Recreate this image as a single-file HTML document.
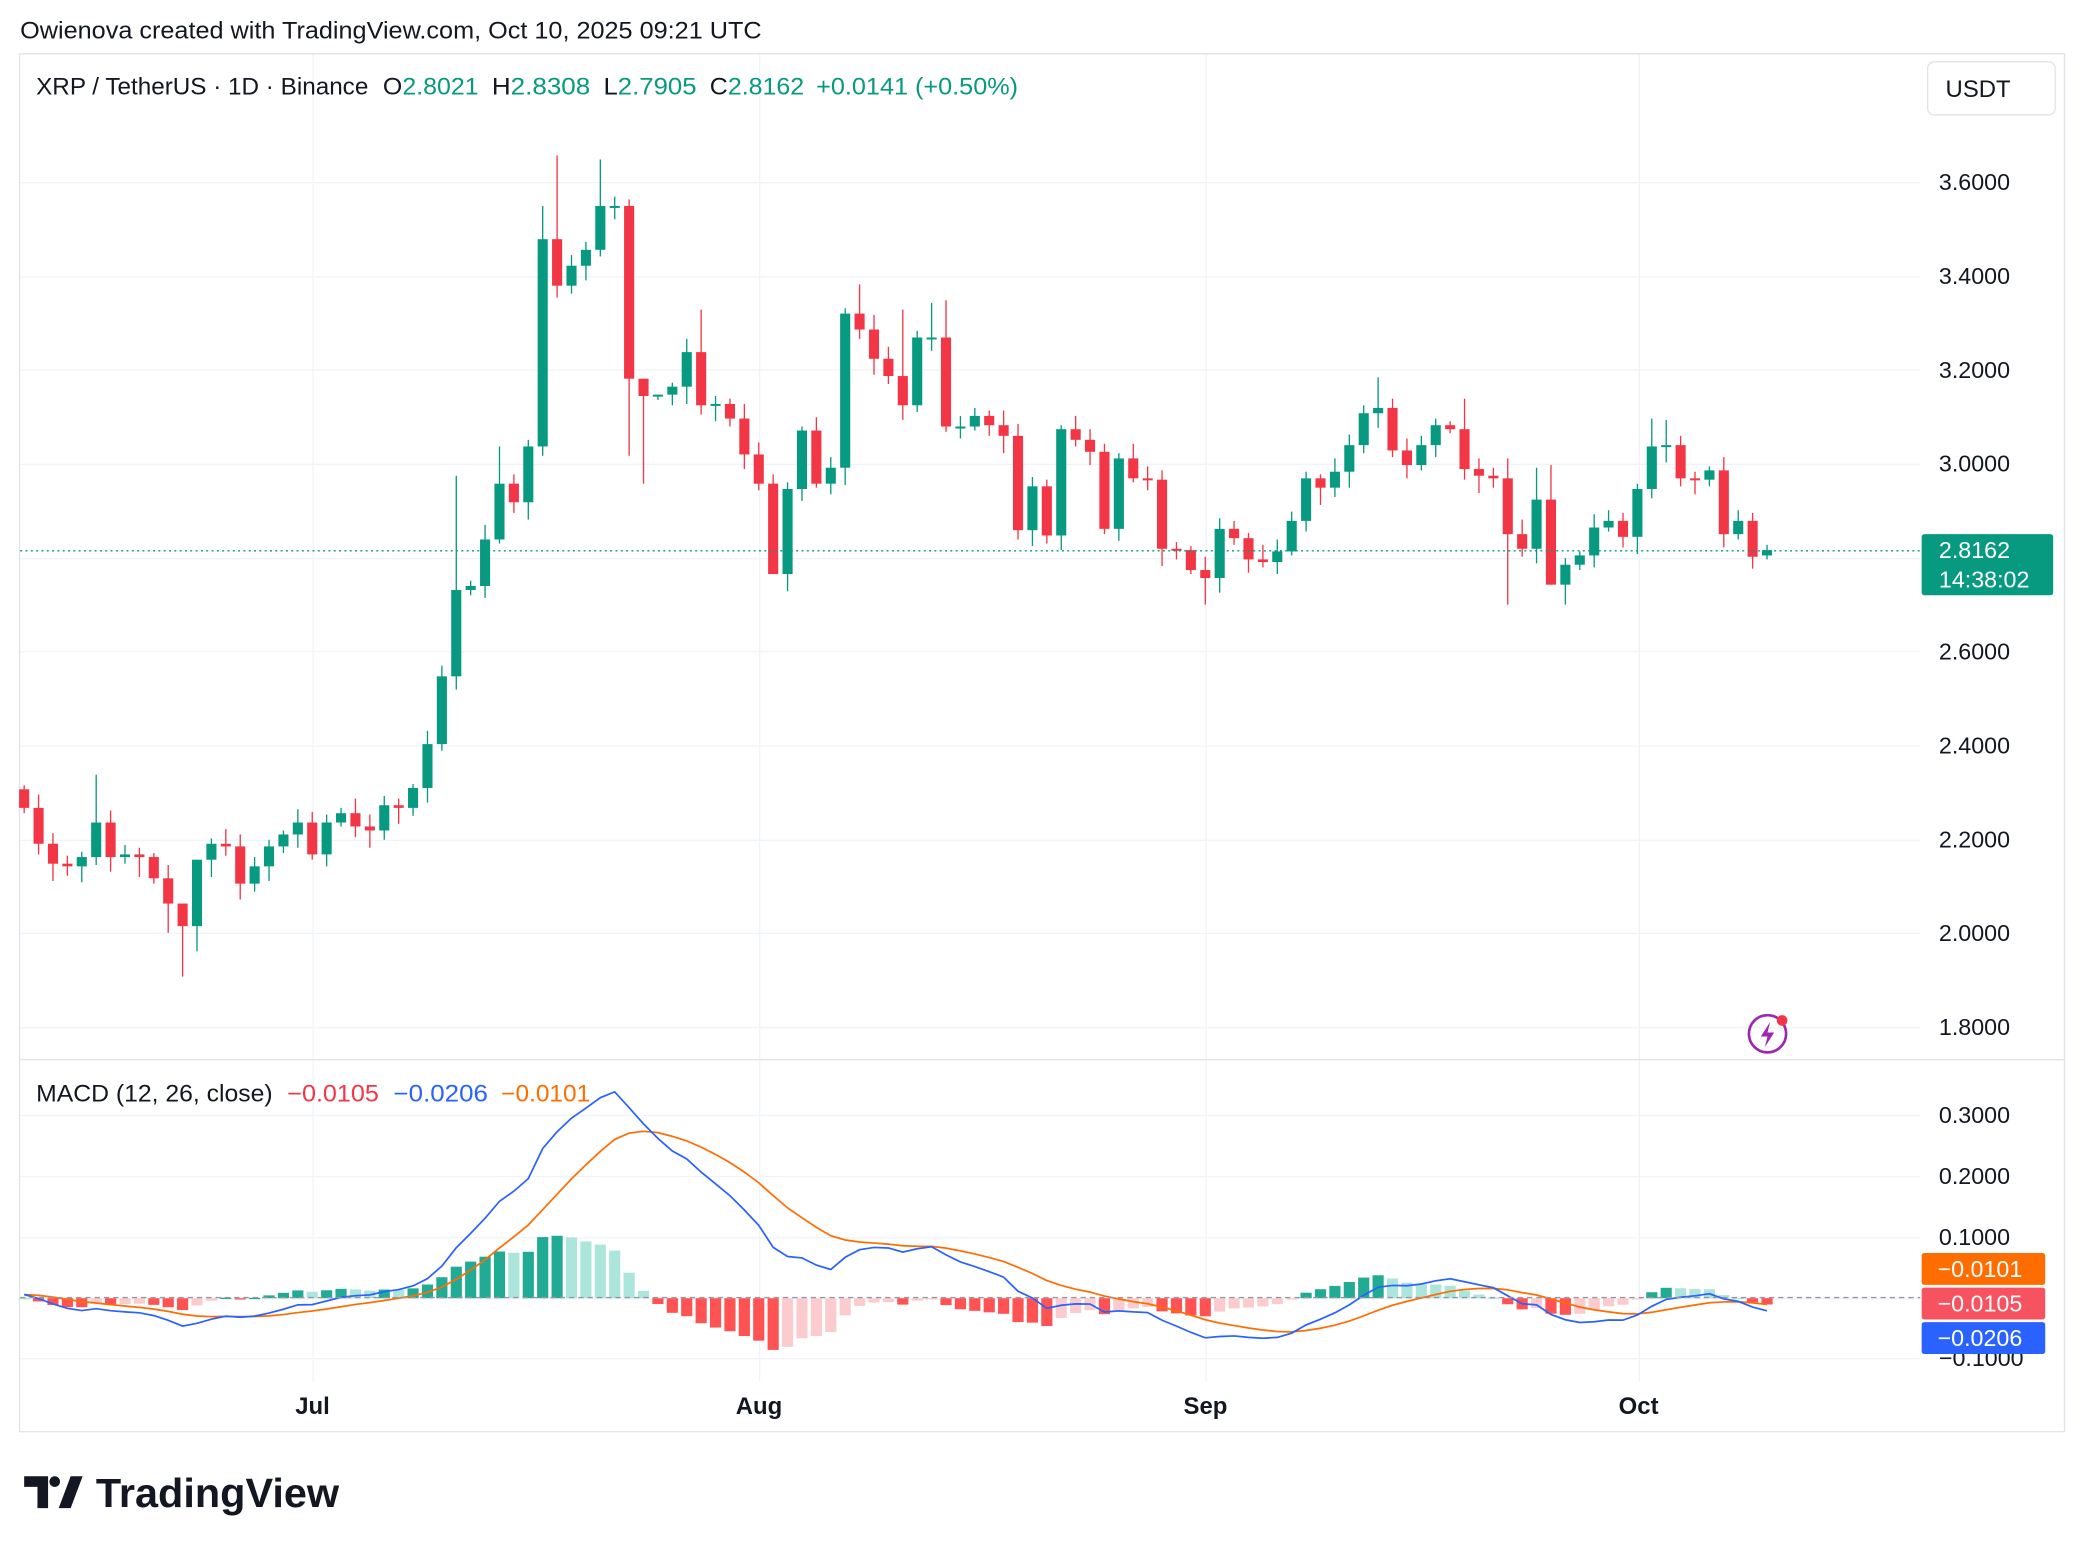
<!DOCTYPE html>
<html><head><meta charset="utf-8"><style>
html,body{margin:0;padding:0;background:#fff;}
svg{display:block;font-family:"Liberation Sans",sans-serif;}
</style></head><body>
<svg id="s" width="2084" height="1552" viewBox="0 0 1568 1168" xmlns="http://www.w3.org/2000/svg">
<rect width="1568" height="1168" fill="#fff"/>
<text x="15" y="29" font-size="18" fill="#131722" textLength="558" lengthAdjust="spacingAndGlyphs">Owienova created with TradingView.com, Oct 10, 2025 09:21 UTC</text>
<rect x="14.5" y="40.5" width="1539" height="1037" fill="none" stroke="#e0e3eb"/>
<g id="grid" stroke="#f0f3fa" stroke-width="1"></g>
<line x1="15" y1="797.5" x2="1553" y2="797.5" stroke="#e0e3eb"/>
<g id="candles"></g>
<g id="macd"></g>
<line x1="15" y1="414.5" x2="1445" y2="414.5" stroke="#089981" stroke-dasharray="1.5,2.5"/>
<g font-size="18" fill="#131722">
<text x="27" y="71" textLength="250" lengthAdjust="spacingAndGlyphs">XRP / TetherUS · 1D · Binance</text>
<text x="288" y="71" textLength="72" lengthAdjust="spacingAndGlyphs">O<tspan fill="#089981">2.8021</tspan></text>
<text x="370" y="71" textLength="74" lengthAdjust="spacingAndGlyphs">H<tspan fill="#089981">2.8308</tspan></text>
<text x="454" y="71" textLength="70" lengthAdjust="spacingAndGlyphs">L<tspan fill="#089981">2.7905</tspan></text>
<text x="534" y="71" textLength="71" lengthAdjust="spacingAndGlyphs">C<tspan fill="#089981">2.8162</tspan></text>
<text x="614" y="71" fill="#089981" textLength="152" lengthAdjust="spacingAndGlyphs">+0.0141 (+0.50%)</text>
<text x="27" y="829" textLength="178" lengthAdjust="spacingAndGlyphs">MACD (12, 26, close)</text>
<text x="216" y="829" fill="#f23645" textLength="69" lengthAdjust="spacingAndGlyphs">−0.0105</text>
<text x="296" y="829" fill="#2962ff" textLength="71" lengthAdjust="spacingAndGlyphs">−0.0206</text>
<text x="377" y="829" fill="#ff6d00" textLength="67" lengthAdjust="spacingAndGlyphs">−0.0101</text>
</g>
<rect x="1450.5" y="46.5" width="96" height="40" rx="5" fill="#fff" stroke="#e0e3eb"/>
<text x="1464" y="73" font-size="18" fill="#131722">USDT</text>
<g id="plabels" font-size="17.5" fill="#131722"></g>
<rect x="1446" y="402" width="99" height="46" rx="2" fill="#089981"/>
<text x="1459" y="420" font-size="17.5" fill="#fff">2.8162</text>
<text x="1459" y="442" font-size="17.5" fill="#fff">14:38:02</text>
<line x1="15" y1="976.5" x2="1445" y2="976.5" stroke="#9598a1" stroke-dasharray="4,3"/>
<rect x="1446" y="943" width="93" height="24" rx="2" fill="#ff6d00"/>
<text x="1458" y="961" font-size="17.5" fill="#fff">−0.0101</text>
<rect x="1446" y="969" width="93" height="24" rx="2" fill="#f7525f"/>
<text x="1458" y="987" font-size="17.5" fill="#fff">−0.0105</text>
<rect x="1446" y="995" width="93" height="24" rx="2" fill="#2962ff"/>
<text x="1458" y="1013" font-size="17.5" fill="#fff">−0.0206</text>
<g font-size="18" fill="#131722" font-weight="bold" text-anchor="middle">
<text x="235" y="1064">Jul</text><text x="571" y="1064">Aug</text><text x="907" y="1064">Sep</text><text x="1233" y="1064">Oct</text></g>
<circle cx="1330" cy="778" r="14" fill="none" stroke="#9c27b0" stroke-width="2"/>
<path d="M1332 769 l-7 11 h5 l-2 8 l7 -11 h-5z" fill="#9c27b0"/>
<circle cx="1341" cy="768" r="4" fill="#f23645"/>
<g fill="#131722"><path d="M18 1111 h18 v24 h-8 v-16 h-10z"/><circle cx="41" cy="1115" r="4"/><path d="M44 1135 l9 -24 h9 l-9 24z"/></g>
<text x="72" y="1134" font-size="31" font-weight="bold" fill="#131722" textLength="183" lengthAdjust="spacingAndGlyphs">TradingView</text>
</svg>
<script>
const ys=[[594,608],[608,635],[635,650],[650,652],[652,645],[645,619],[619,645],[645,643],[643,645],[645,661],[661,680],[680,697],[697,647],[647,635],[635,637],[637,665],[665,652],[652,637],[637,628],[628,619],[619,643],[643,619],[619,612],[612,622],[622,625],[625,606],[606,608],[608,593],[593,560],[560,509],[509,444],[444,441],[441,406],[406,364],[364,378],[378,336],[336,180],[180,215],[215,200],[200,188],[188,155],[155,155],[155,285],[285,298],[298,297],[297,291],[291,265],[265,305],[305,304],[304,315],[315,342],[342,364],[364,432],[432,368],[368,324],[324,364],[364,352],[352,236],[236,248],[248,270],[270,283],[283,305],[305,254],[254,254],[254,321],[321,321],[321,313],[313,320],[320,328],[328,399],[399,366],[366,403],[403,323],[323,331],[331,340],[340,398],[398,345],[345,360],[360,361],[361,413],[413,414],[414,429],[429,435],[435,398],[398,405],[405,421],[421,423],[423,415],[415,392],[392,360],[360,367],[367,355],[355,335],[335,311],[311,307],[307,339],[339,350],[350,335],[335,320],[320,323],[323,353],[353,358],[358,360],[360,402],[402,413],[413,376],[376,440],[440,425],[425,418],[418,397],[397,392],[392,404],[404,368],[368,336],[336,335],[335,360],[360,361],[361,354],[354,402],[402,392],[392,419],[418,414]];
const hi={36:155,37:117,40:120,41:148,42:150,57:232,58:214,61:233,63:228,64:226,11:735,12:715,33:336,30:358,47:233,95:300,94:284,100:300,113:315,114:316,5:583,43:364,44:350,103:345,106:350,105:352};
const lo={11:735,12:716,42:343,43:364,52:432,53:445,106:440,107:455,103:455,82:455,81:432,8:660,10:702,37:224,0:612};
const NS="http://www.w3.org/2000/svg";
function el(t,a,p){const e=document.createElementNS(NS,t);for(const k in a)e.setAttribute(k,a[k]);p.appendChild(e);return e;}
const s=document.getElementById('s'),G=document.getElementById('grid'),C=document.getElementById('candles'),M=document.getElementById('macd'),PL=document.getElementById('plabels');
[137,208,278,349,420,490,561,632,702,773].forEach(y=>el('line',{x1:15,x2:1445,y1:y+.5,y2:y+.5},G));
[839,885,931,977,1022].forEach(y=>el('line',{x1:15,x2:1445,y1:y+.5,y2:y+.5},G));
[235,571,907,1233].forEach(x=>el('line',{x1:x+.5,x2:x+.5,y1:41,y2:1040},G));
['3.6000','3.4000','3.2000','3.0000','2.8000','2.6000','2.4000','2.2000','2.0000','1.8000'].forEach((t,i)=>{if(t==='2.8000')return;const e=el('text',{x:1459,y:137+i*70.67+6},PL);e.textContent=t;});
['0.3000','0.2000','0.1000'].forEach((t,i)=>{const e=el('text',{x:1459,y:839+i*46+6},PL);e.textContent=t;});
{const e=el('text',{x:1459,y:1028},PL);e.textContent='−0.1000';}
const closes=[];
ys.forEach((c,i)=>{const x=18+i*10.84;const [o,cl]=c;const up=cl<=o;const col=up?'#089981':'#f23645';
 const top=Math.min(o,cl),bot=Math.max(o,cl);const w=3+(i*7%9);
 const h=hi[i]!==undefined?Math.min(hi[i],top):top-w;const l=lo[i]!==undefined?Math.max(lo[i],bot):bot+(3+(i*5%11));
 el('line',{x1:x,x2:x,y1:h,y2:l,stroke:col,'stroke-width':1},C);
 el('rect',{x:x-3.8,y:top,width:7.6,height:Math.max(1.5,bot-top),fill:col},C);
 closes.push(3.6-(cl-137)/353.3);});
function ema(a,n){const k=2/(n+1);let r=[],v=a[0];a.forEach(x=>{v=x*k+v*(1-k);r.push(v);});return r;}
const pre=[2.25,2.27,2.30,2.28,2.26,2.27,2.29,2.28,2.27,2.27];
const all=pre.concat(closes);
const e12=ema(all,12),e26=ema(all,26);const mac=all.map((_,i)=>e12[i]-e26[i]);const sig=ema(mac,9);
const off=pre.length;let lp='',sp='';
for(let i=0;i<closes.length;i++){const x=18+i*10.84;const m=mac[i+off],sg=sig[i+off],h=m-sg;
 const ym=977-m*460,yS=977-sg*460;lp+=(i?'L':'M')+x.toFixed(1)+' '+ym.toFixed(1);sp+=(i?'L':'M')+x.toFixed(1)+' '+yS.toFixed(1);
 const ph=mac[i+off-1]-sig[i+off-1];let col;
 if(h>=0)col=h>=ph?'#22ab94':'#ace5dc';else col=h<ph?'#ff5252':'#fccbcd';
 const yh=977-h*460;el('rect',{x:x-4.2,y:Math.min(977,yh),width:8.4,height:Math.max(1,Math.abs(yh-977)),fill:col},M);}
el('path',{d:sp,fill:'none',stroke:'#ff6d00','stroke-width':1.3},M);
el('path',{d:lp,fill:'none',stroke:'#2962ff','stroke-width':1.3},M);
</script>
</body></html>
